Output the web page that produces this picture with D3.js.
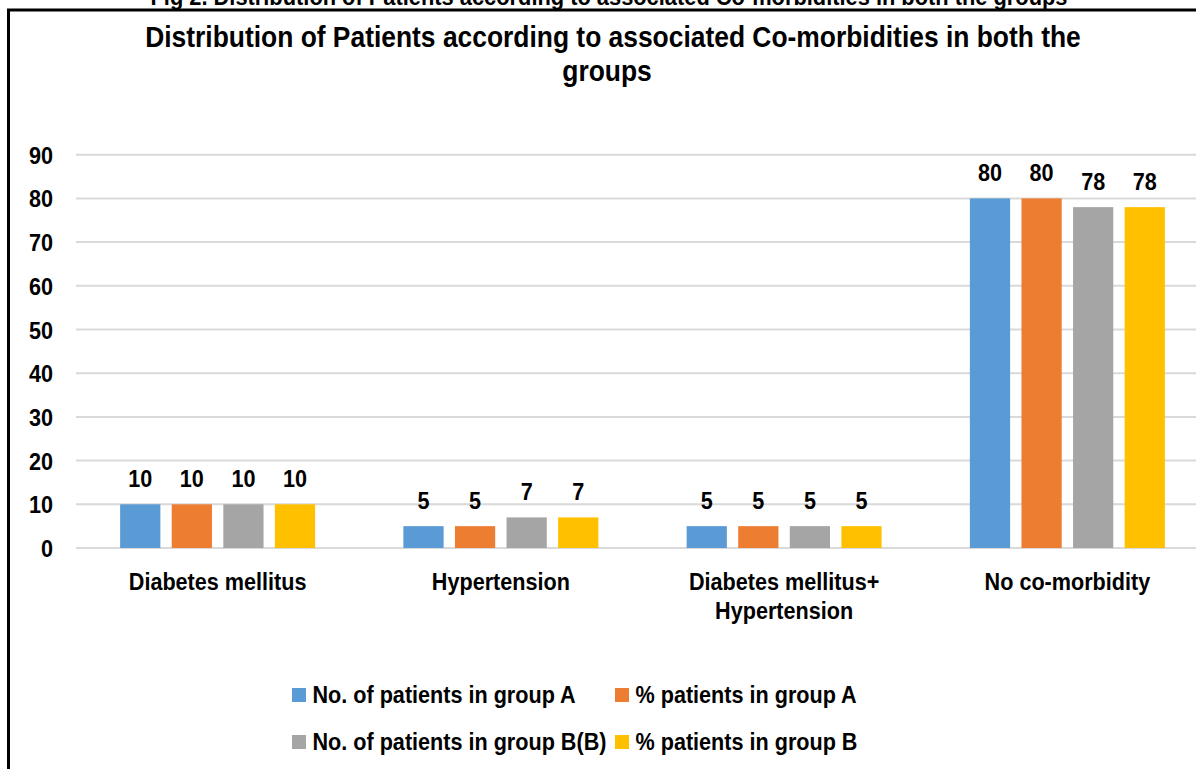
<!DOCTYPE html>
<html>
<head>
<meta charset="utf-8">
<script src="https://cdn.jsdelivr.net/npm/d3@7"></script>
<style>
  body { margin: 0; background: #fff; }
  svg text { font-family: "Liberation Sans", Arial, sans-serif; font-weight: bold; fill: #000; }
</style>
</head>
<body>
<div id="chart"></div>
<script>
"use strict";

// chart data
const categories = ["Diabetes mellitus", "Hypertension", "Diabetes mellitus+\nHypertension", "No co-morbidity"];
const seriesNames = ["No. of patients in group A", "% patients in group A", "No. of patients in group B(B)", "% patients in group B"];
const groupA_no = [10, 5, 5, 80];
const groupA_pct = [10, 5, 5, 80];
const groupB_no = [10, 7, 5, 78];
const groupB_pct = [10, 7, 5, 78];
const yTicks = [0, 10, 20, 30, 40, 50, 60, 70, 80, 90];
const colors = ["#5B9BD5", "#ED7D31", "#A5A5A5", "#FFC000"];

const seriesValues = [groupA_no, groupA_pct, groupB_no, groupB_pct];

const width = 1196, height = 769;
const squeeze = 0.9;   // narrow the glyphs a bit, like the original font

const svg = d3.select("#chart")
    .append("svg")
    .attr("width", width)
    .attr("height", height);

// place a text at (x, y) horizontally squeezed
function narrowText(parent, x, y, str, size, anchor, sq) {
    return parent.append("text")
        .attr("transform", `translate(${x},${y}) scale(${sq || squeeze},1)`)
        .attr("text-anchor", anchor || "middle")
        .style("font-size", size + "px")
        .text(str);
}

// figure caption, cut off at the top of the picture
narrowText(svg, 609, 5, "Fig 2. Distribution of Patients according to associated Co-morbidities in both the groups", 24, "middle", 0.91);

// outer frame (runs past the right and bottom edges)
svg.append("rect")
    .attr("x", 8.5)
    .attr("y", 10)
    .attr("width", 1300)
    .attr("height", 900)
    .attr("fill", "none")
    .attr("stroke", "#000")
    .attr("stroke-width", 3);

// title
narrowText(svg, 613, 47, "Distribution of Patients according to associated Co-morbidities in both the", 30, "middle", 0.88);
narrowText(svg, 607, 81, "groups", 30, "middle", 0.88);

// scales
const x0 = d3.scaleBand()
    .domain(categories)
    .range([76, 1209])
    .paddingInner(0.3116)
    .paddingOuter(0.1558);

const x1 = d3.scaleBand()
    .domain(d3.range(seriesNames.length))
    .range([0, x0.bandwidth()])
    .paddingInner(0.22);

const y = d3.scaleLinear()
    .domain([0, 90])
    .range([548, 154.7]);

// gridlines
svg.append("g")
    .selectAll("line")
    .data(yTicks)
    .join("line")
    .attr("x1", 76)
    .attr("x2", 1209)
    .attr("y1", d => y(d))
    .attr("y2", d => y(d))
    .attr("stroke", "#D9D9D9")
    .attr("stroke-width", 2);

// y axis labels
const yAxis = svg.append("g")
    .attr("transform", "translate(76,0)")
    .call(d3.axisLeft(y).tickValues(yTicks).tickSize(0));
yAxis.select(".domain").remove();
yAxis.selectAll(".tick text").remove();
yAxis.selectAll(".tick").each(function (d) {
    narrowText(d3.select(this), -23, 8.5, d, 24, "end");
});

// bars
const groups = svg.append("g")
    .selectAll("g")
    .data(categories)
    .join("g")
    .attr("transform", d => `translate(${x0(d)},0)`);

groups.selectAll("rect")
    .data((d, i) => seriesValues.map((vals, s) => ({ s: s, v: vals[i] })))
    .join("rect")
    .attr("x", d => x1(d.s))
    .attr("y", d => y(d.v))
    .attr("width", x1.bandwidth())
    .attr("height", d => y(0) - y(d.v))
    .attr("fill", d => colors[d.s]);

// data labels
groups.each(function (c, i) {
    const g = d3.select(this);
    seriesValues.forEach((vals, s) => {
        narrowText(g, x1(s) + x1.bandwidth() / 2, y(vals[i]) - 17, vals[i], 24);
    });
});

// category labels
const catG = svg.append("g");
categories.forEach(c => {
    c.split("\n").forEach((line, k) => {
        narrowText(catG, x0(c) + x0.bandwidth() / 2, 589.5 + k * 29.5, line, 24);
    });
});

// legend
const legendPos = [[292, 695], [615, 695], [292, 742], [615, 742]];
const legend = svg.append("g")
    .selectAll("g")
    .data(seriesNames)
    .join("g")
    .attr("transform", (d, i) => `translate(${legendPos[i][0]},${legendPos[i][1]})`);

legend.append("rect")
    .attr("x", 0)
    .attr("y", -7)
    .attr("width", 14)
    .attr("height", 14)
    .attr("fill", (d, i) => colors[i]);

legend.each(function (d) {
    narrowText(d3.select(this), 20.5, 8, d, 24, "start");
});
</script>
</body>
</html>
